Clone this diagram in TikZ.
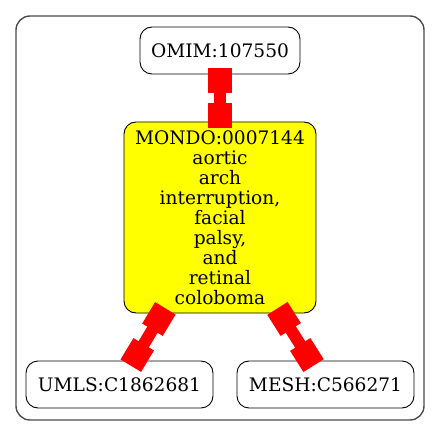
\documentclass[tikz,border=0pt]{standalone}
\usepackage{fontspec}
\setmainfont{DejaVu Serif}
\usetikzlibrary{arrows.meta}
\definecolor{yel}{RGB}{255,255,0}
\tikzset{
  lbl/.style={draw=black, line width=0.9pt, rounded corners=12pt, inner sep=0pt,
    align=center, font=\fontsize{18.6}{20}\selectfont},
  edge/.style={draw=red, line width=12pt,
    {Square[length=25pt,width=24pt]}-{Square[length=25pt,width=24pt]},
    shorten <=-6pt, shorten >=-6pt},
}
\begin{document}
\begin{tikzpicture}[x=1pt,y=-1pt]
\useasboundingbox (0,0) rectangle (440,436);
\draw[black!70, line width=1.4pt, rounded corners=14pt] (16,16) rectangle (424,420);
\node[lbl, minimum width=160pt, minimum height=47pt] (omim) at (220,50.5) {OMIM:107550};
\node[lbl, fill=yel, minimum width=192pt, minimum height=191pt] (mondo) at (220,217.5)
  {MONDO:0007144\\aortic\\arch\\interruption,\\facial\\palsy,\\and\\retinal\\coloboma};
\node[lbl, minimum width=187pt, minimum height=47pt] (umls) at (119.5,384.5) {UMLS:C1862681};
\node[lbl, minimum width=177pt, minimum height=47pt] (mesh) at (325.5,384.5) {MESH:C566271};
\draw[edge] (omim) -- (mondo);
\draw[edge] (mondo) -- (umls);
\draw[edge] (mondo) -- (mesh);
\end{tikzpicture}
\end{document}
